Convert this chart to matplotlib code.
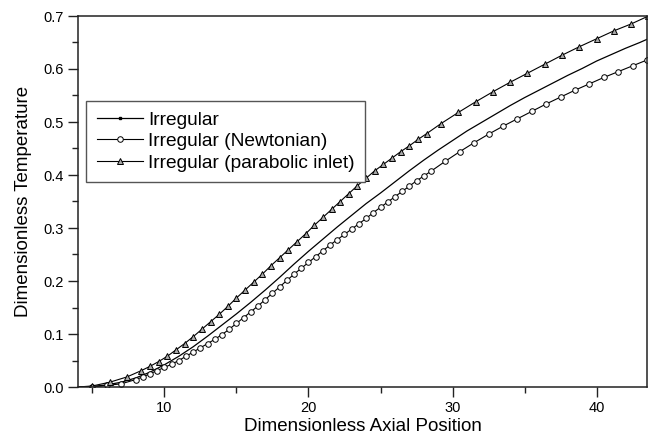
import numpy as np
import matplotlib
matplotlib.use("Agg")
import matplotlib.pyplot as plt
from matplotlib.lines import Line2D

plt.rcParams['font.family'] = ['Liberation Sans', 'DejaVu Sans']

# Irregular (solid line)
x_irr = [4.0, 5.0, 6.0, 7.0, 8.0, 9.0, 10.0, 11.0, 12.0, 13.0, 14.0, 15.0, 16.0,
         17.0, 18.0, 19.0, 20.0, 21.0, 22.0, 23.0, 24.0, 25.0, 26.0, 27.0, 28.0,
         29.0, 30.0, 31.0, 32.0, 33.0, 34.0, 35.0, 36.0, 37.0, 38.0, 39.0, 40.0,
         41.0, 42.0, 43.0, 43.5]
y_irr = [0.000, 0.001, 0.004, 0.009, 0.017, 0.028, 0.042, 0.058, 0.076, 0.096,
         0.117, 0.138, 0.160, 0.183, 0.207, 0.232, 0.256, 0.279, 0.302, 0.324,
         0.346, 0.366, 0.387, 0.408, 0.428, 0.447, 0.465, 0.483, 0.499, 0.515,
         0.531, 0.546, 0.560, 0.574, 0.588, 0.601, 0.615, 0.627, 0.639, 0.650,
         0.656]

# Irregular (Newtonian) - circles
x_newt = [4.0, 5.0, 6.0, 7.0, 8.0, 8.5, 9.0, 9.5, 10.0, 10.5, 11.0, 11.5, 12.0,
          12.5, 13.0, 13.5, 14.0, 14.5, 15.0, 15.5, 16.0, 16.5, 17.0, 17.5,
          18.0, 18.5, 19.0, 19.5, 20.0, 20.5, 21.0, 21.5, 22.0, 22.5, 23.0,
          23.5, 24.0, 24.5, 25.0, 25.5, 26.0, 26.5, 27.0, 27.5, 28.0, 28.5,
          29.5, 30.5, 31.5, 32.5, 33.5, 34.5, 35.5, 36.5, 37.5, 38.5, 39.5,
          40.5, 41.5, 42.5, 43.5]
y_newt = [0.000, 0.000, 0.003, 0.006, 0.014, 0.019, 0.025, 0.031, 0.037, 0.043,
          0.050, 0.058, 0.066, 0.074, 0.082, 0.090, 0.099, 0.109, 0.120, 0.131,
          0.142, 0.153, 0.165, 0.177, 0.189, 0.201, 0.213, 0.224, 0.235, 0.246,
          0.257, 0.268, 0.278, 0.288, 0.298, 0.308, 0.318, 0.329, 0.339, 0.349,
          0.359, 0.369, 0.379, 0.389, 0.398, 0.407, 0.426, 0.444, 0.461, 0.477,
          0.492, 0.506, 0.520, 0.534, 0.547, 0.560, 0.572, 0.584, 0.595, 0.606,
          0.617]

# Irregular (parabolic inlet) - triangles
x_para = [4.0, 5.0, 6.2, 7.4, 8.4, 9.0, 9.6, 10.2, 10.8, 11.4, 12.0, 12.6, 13.2,
          13.8, 14.4, 15.0, 15.6, 16.2, 16.8, 17.4, 18.0, 18.6, 19.2, 19.8,
          20.4, 21.0, 21.6, 22.2, 22.8, 23.4, 24.0, 24.6, 25.2, 25.8, 26.4,
          27.0, 27.6, 28.2, 29.2, 30.4, 31.6, 32.8, 34.0, 35.2, 36.4, 37.6,
          38.8, 40.0, 41.2, 42.4, 43.6]
y_para = [0.000, 0.002, 0.009, 0.019, 0.031, 0.039, 0.048, 0.058, 0.070, 0.082,
          0.095, 0.109, 0.123, 0.137, 0.152, 0.168, 0.183, 0.198, 0.213, 0.229,
          0.244, 0.259, 0.274, 0.289, 0.305, 0.320, 0.335, 0.350, 0.365, 0.380,
          0.394, 0.408, 0.420, 0.432, 0.444, 0.455, 0.467, 0.478, 0.497, 0.518,
          0.538, 0.557, 0.575, 0.592, 0.609, 0.626, 0.642, 0.657, 0.672, 0.685,
          0.700]

labels = ['Irregular', 'Irregular (Newtonian)', 'Irregular (parabolic inlet)']

fig = plt.figure(figsize=(6.53, 4.40), dpi=100)
ax = fig.add_axes([78 / 653, 53 / 440, 569 / 653, 371 / 440])

ax.plot(x_irr, y_irr, color='black', lw=0.9)
ax.plot(x_newt, y_newt, color='black', lw=0.8, marker='o', ms=4,
        mfc='white', mec='black', mew=0.7, markevery=slice(1, None))
ax.plot(x_para, y_para, color='black', lw=0.8, marker='^', ms=4.5,
        mfc='#a8a8a8', mec='black', mew=0.7, markevery=slice(1, None))

ax.set_xlim(4, 43.5)
ax.set_ylim(0, 0.7)
ax.set_xticks([10, 20, 30, 40])
ax.set_xticks([5, 15, 25, 35], minor=True)
ax.set_yticks(np.arange(0, 0.71, 0.1))
ax.set_yticks(np.arange(0.05, 0.7, 0.1), minor=True)
ax.yaxis.set_major_formatter(matplotlib.ticker.FormatStrFormatter('%.1f'))

ax.tick_params(which='both', direction='out', top=False, right=False,
               labelsize=10.5, width=1.0, color='#222222')
ax.tick_params(which='major', length=7, pad=3)
ax.tick_params(which='minor', length=4)
for s in ax.spines.values():
    s.set_linewidth(1.1)
    s.set_color('#222222')

ax.set_xlabel('Dimensionless Axial Position', fontsize=13.5, labelpad=2)
ax.set_ylabel('Dimensionless Temperature', fontsize=13.5, labelpad=8)

handles = [
    Line2D([], [], color='black', lw=0.9, marker='s', ms=1.5),
    Line2D([], [], color='black', lw=0.8, marker='o', ms=4,
           mfc='white', mec='black', mew=0.7),
    Line2D([], [], color='black', lw=0.8, marker='^', ms=4.5,
           mfc='#a8a8a8', mec='black', mew=0.7),
]
leg = ax.legend(handles, labels, loc='upper left',
                bbox_to_anchor=(0.014, 0.772), borderaxespad=0,
                fontsize=13.8, fancybox=False, edgecolor='#555555',
                framealpha=1, handlelength=2.4, handletextpad=0.3,
                labelspacing=0.22, borderpad=0.55)
leg.get_frame().set_linewidth(1.0)

fig.savefig('out.png', dpi=100)
